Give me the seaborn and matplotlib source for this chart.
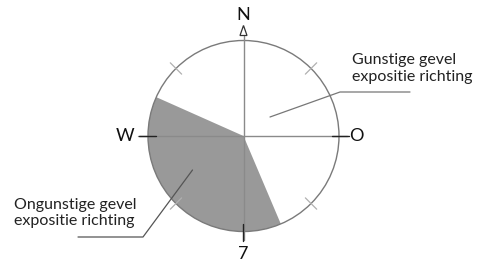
import numpy as np
import seaborn as sns
import matplotlib.pyplot as plt
from matplotlib.patches import Wedge, Circle

# windrichtingen en sector (graden, tegen de klok in vanaf oost)
richtingen = ['O', 'N', 'W', '7']
hoeken = [0, 90, 180, 270]
ongunstig_start = 156
ongunstig_eind = 293
tussen_hoeken = [45, 135, 225, 315]
labels = ['Gunstige gevel\nexpositie richting', 'Ongunstige gevel\nexpositie richting']

sns.set_style('white')
plt.rcParams['font.family'] = ['Lato', 'DejaVu Sans']

fig = plt.figure(figsize=(4.82, 2.61), dpi=100)
ax = fig.add_axes([0, 0, 1, 1])
cx, cy, r = 0.0, 0.0, 95.5
ax.set_xlim(-243.5, 238.5)
ax.set_ylim(-125, 136)
ax.set_aspect('equal')
ax.axis('off')

# ongunstige sector en cirkel
ax.add_patch(Wedge((cx, cy), r, ongunstig_start, ongunstig_eind,
                   facecolor='#999999', edgecolor='none', zorder=1))
ax.add_patch(Circle((cx, cy), r, facecolor='none', edgecolor='#7a7a7a', lw=1.0, zorder=2))

# assen
ax.plot([0, 0], [-104, 100.5], color='#8a8a8a', lw=1.0, zorder=3)
ax.plot([-105.5, 103.5], [0, 0], color='#8a8a8a', lw=1.0, zorder=3)
for h in hoeken:
    if h == 90:
        continue
    a = np.radians(h)
    ax.plot([88 * np.cos(a), 105 * np.cos(a)], [88 * np.sin(a), 105 * np.sin(a)],
            color='#222222', lw=1.0, zorder=4)

# noordpijl
ax.add_patch(plt.Polygon([[-3.5, 100.5], [3.5, 100.5], [0, 110.5]], closed=True,
                         facecolor='white', edgecolor='#333333', lw=0.9, zorder=5))

# tussenmarkeringen
for h in tussen_hoeken:
    a = np.radians(h)
    ax.plot([(r - 8) * np.cos(a), (r + 8) * np.cos(a)],
            [(r - 8) * np.sin(a), (r + 8) * np.sin(a)], color='#b0b0b0', lw=0.9, zorder=2)

# labels windrichtingen
pos = {'O': (113, 0), 'N': (0, 121), 'W': (-118, 0), '7': (0, -118)}
for t in richtingen:
    x, y = pos[t]
    ax.text(x, y, t, ha='center', va='center', fontsize=13, color='#111111', zorder=6)

# toelichtingen
ax.plot([26.5, 96.5, 166.5], [19, 44, 44], color='#777777', lw=0.9, zorder=3)
ax.text(108.5, 67.5, labels[0], ha='left', va='center', fontsize=11.5,
        color='#222222', linespacing=1.25)
ax.plot([-51, -100.5, -165.5], [-34, -101, -101], color='#555555', lw=0.9, zorder=3)
ax.text(-229.5, -77, labels[1], ha='left', va='center', fontsize=11.5,
        color='#222222', linespacing=1.25)

fig.savefig('out.png', dpi=100)
